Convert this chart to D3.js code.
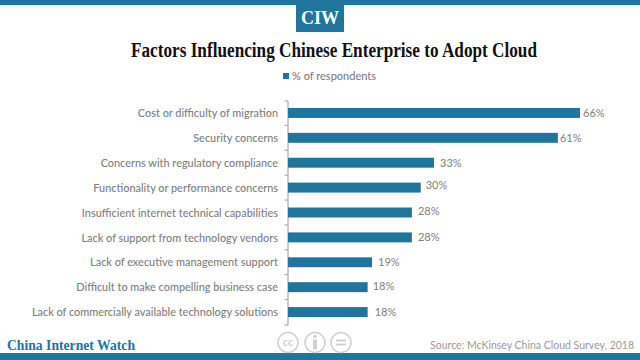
<!DOCTYPE html>
<html>
<head>
<meta charset="utf-8">
<script src="https://cdn.jsdelivr.net/npm/d3@7"></script>
<style>
  html, body { margin: 0; padding: 0; background: #fff; }
  svg { display: block; }
  text { font-family: Lato, sans-serif; }
  .serif { font-family: "Liberation Serif", serif; font-weight: 700; }
</style>
</head>
<body>
<div id="chart"></div>
<script>
const categories = [
  "Cost or difficulty of migration",
  "Security concerns",
  "Concerns with regulatory compliance",
  "Functionality or performance concerns",
  "Insufficient internet technical capabilities",
  "Lack of support from technology vendors",
  "Lack of executive management support",
  "Difficult to make compelling business case",
  "Lack of commercially available technology solutions"
];
const respondents = [66, 61, 33, 30, 28, 28, 19, 18, 18];
const seriesName = "% of respondents";

const width = 640;
const height = 360;
const blue = "#20759c";
const grey = "#808080";

const svg = d3.select("#chart")
  .append("svg")
  .attr("width", width)
  .attr("height", height);

// top and bottom bands
svg.append("rect").attr("x", 0).attr("y", 0).attr("width", width).attr("height", 5).attr("fill", blue);
svg.append("rect").attr("x", 0).attr("y", 353).attr("width", width).attr("height", 7).attr("fill", blue);

// CIW badge
svg.append("rect").attr("x", 296).attr("y", 0).attr("width", 48).attr("height", 32).attr("fill", blue);
svg.append("text").attr("class", "serif")
  .attr("x", 320).attr("y", 24)
  .attr("text-anchor", "middle")
  .attr("fill", "#fff")
  .style("font-size", "18px")
  .text("CIW");

svg.append("text").attr("class", "serif")
  .attr("x", 131).attr("y", 56.5)
  .attr("textLength", 406)
  .attr("lengthAdjust", "spacingAndGlyphs")
  .attr("fill", "#111")
  .style("font-size", "20px")
  .text("Factors Influencing Chinese Enterprise to Adopt Cloud");

// legend
svg.append("rect").attr("x", 283).attr("y", 73).attr("width", 6).attr("height", 6).attr("fill", blue);
svg.append("text")
  .attr("x", 292).attr("y", 80)
  .attr("fill", grey)
  .style("font-size", "11px")
  .style("font-weight", 500)
  .text(seriesName);

// scales
const x = d3.scaleLinear().domain([0, 66]).range([288, 580]);
const y = d3.scaleBand().domain(categories).range([100.5, 324.5]).paddingInner(0.6).paddingOuter(0.3);

const yAxis = d3.axisLeft(y).tickSizeOuter(3).tickSizeInner(0).tickPadding(9.5);
const axisG = svg.append("g")
  .attr("transform", "translate(287.5,0)")
  .call(yAxis);
axisG.select(".domain").attr("stroke", "#999");
axisG.selectAll("text")
  .attr("fill", grey)
  .attr("dy", "0.38em")
  .style("font-size", "10.9px")
  .style("font-weight", 500);

// small ticks between the categories
axisG.selectAll(".between")
  .data(categories.slice(1))
  .enter()
  .append("line")
  .attr("class", "between")
  .attr("x1", -3)
  .attr("x2", 0)
  .attr("y1", d => y(d) - y.step() * y.paddingInner() / 2)
  .attr("y2", d => y(d) - y.step() * y.paddingInner() / 2)
  .attr("stroke", "#999");

const rows = categories.map((c, i) => ({ label: c, value: respondents[i] }));

svg.selectAll(".bar")
  .data(rows)
  .enter()
  .append("rect")
  .attr("class", "bar")
  .attr("x", x(0))
  .attr("y", d => y(d.label))
  .attr("width", d => x(d.value) - x(0))
  .attr("height", y.bandwidth())
  .attr("fill", blue);

// the value labels sit a bit unevenly in the original
const labelDx = [3, 2, 6, 5, 6, 6, 6, 5, 7];
const labelDy = [0, 0, 0, -3, -2, 0, 0, -1, 0];

svg.selectAll(".value")
  .data(rows)
  .enter()
  .append("text")
  .attr("class", "value")
  .attr("x", (d, i) => x(d.value) + labelDx[i])
  .attr("y", (d, i) => y(d.label) + y.bandwidth() / 2 + 4 + labelDy[i])
  .attr("fill", grey)
  .style("font-size", "11px")
  .text(d => d.value + "%");

// footer
svg.append("text").attr("class", "serif")
  .attr("x", 7).attr("y", 350)
  .attr("textLength", 128)
  .attr("lengthAdjust", "spacingAndGlyphs")
  .attr("fill", blue)
  .style("font-size", "14px")
  .text("China Internet Watch");

svg.append("text")
  .attr("x", 634).attr("y", 349)
  .attr("text-anchor", "end")
  .attr("fill", "#9a9a9a")
  .style("font-size", "10.5px")
  .text("Source:  McKinsey China Cloud Survey, 2018");

// licence icons
const icons = svg.append("g")
  .attr("fill", "none")
  .attr("stroke", "#d0d0d0")
  .attr("stroke-width", 1.5);
[288, 315, 341].forEach(cx => icons.append("circle").attr("cx", cx).attr("cy", 342.5).attr("r", 10));
svg.append("text")
  .attr("x", 288).attr("y", 346)
  .attr("text-anchor", "middle")
  .attr("fill", "#d0d0d0")
  .style("font-size", "11px")
  .style("font-weight", 700)
  .text("cc");
svg.append("circle").attr("cx", 315).attr("cy", 336.5).attr("r", 1.8).attr("fill", "#d0d0d0");
svg.append("rect").attr("x", 313).attr("y", 339.5).attr("width", 4).attr("height", 10).attr("fill", "#d0d0d0");
svg.append("rect").attr("x", 336).attr("y", 339.5).attr("width", 10).attr("height", 2).attr("fill", "#d0d0d0");
svg.append("rect").attr("x", 336).attr("y", 343.5).attr("width", 10).attr("height", 2).attr("fill", "#d0d0d0");
</script>
</body>
</html>
